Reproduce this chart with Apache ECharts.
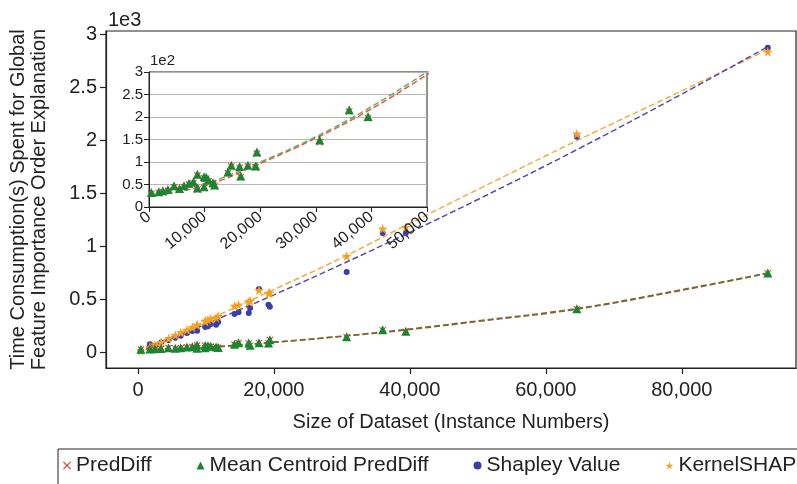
<!DOCTYPE html>
<html>
<head>
<meta charset="utf-8">
<script src="https://cdn.jsdelivr.net/npm/echarts@6/dist/echarts.min.js"></script>
<style>
html,body{margin:0;padding:0;background:#fff;}
#chart{width:797px;height:484px;}
</style>
</head>
<body>
<div id="chart"></div>
<script>
// ---- data ----
const sizes = [430, 1750, 2500, 3400, 4500, 5500, 6300, 7200, 8000, 8700, 8700, 9900, 9900, 10300, 10700, 11500, 11800, 14200, 14800, 16300, 16500, 17800, 19200, 19400, 30700, 36000, 39400, 64560, 92650];
const predDiffTimes = [29, 31, 33, 36, 44, 38, 44, 50, 53, 70, 39, 64, 42, 63, 57, 51, 46, 75, 90, 87, 66, 90, 88, 119, 144, 212, 197, 410, 748];
const centroidTimes = [32, 34, 36, 39, 47, 41, 47, 53, 56, 73, 42, 67, 45, 66, 60, 54, 49, 78, 93, 90, 69, 93, 91, 122, 149, 216, 201, 414, 752];
const shapleyTimes = [15, 80, 65, 95, 120, 140, 160, 185, 205, 207, 230, 242, 255, 250, 270, 263, 290, 364, 380, 373, 420, 600, 452, 433, 762, 1130, 1130, 2038, 2877];
const kernelTimes = [18, 55, 75, 100, 135, 165, 190, 215, 240, 260, 265, 295, 300, 310, 320, 330, 345, 440, 452, 480, 490, 590, 561, 565, 912, 1170, 1185, 2066, 2840];

// fitted trend lines
const fitSizes = [0, 10000, 20000, 30000, 40000, 50000, 64560, 80000, 92650];
const predDiffFit = [24, 47, 97, 153, 218, 294, 410, 588, 748];
const centroidFit = [28, 52, 100, 156, 223, 300, 416, 594, 752];
const shapleyFit = [0, 270, 545, 835, 1135, 1445, 1915, 2440, 2887];
const kernelFit = [10, 300, 595, 895, 1220, 1540, 2000, 2470, 2858];

const mainXTicks = [0, 20000, 40000, 60000, 80000];
const mainYTicks = [0, 500, 1000, 1500, 2000, 2500, 3000];

const seriesNames = ['PredDiff', 'Mean Centroid PredDiff', 'Shapley Value', 'KernelSHAP'];

// ---- styling ----
const FONT = '"Liberation Sans", Arial, Helvetica, sans-serif';
const crossPath = 'path://M1,0L5,4L9,0L10,1L6,5L10,9L9,10L5,6L1,10L0,9L4,5L0,1Z';
const starPath = 'path://M50,0L61,35L98,35L68,57L79,91L50,70L21,91L32,57L2,35L39,35Z';
const colRed = '#e23a2e', colGreen = '#1d8431', colBlue = '#3b3ea8', colOrange = '#f5a021';

function pairs(xs, ys) { return xs.map((x, i) => [x, ys[i]]); }
function commas(v) { return String(v).replace(/\B(?=(\d{3})+(?!\d))/g, ','); }

const axisLineStyle = { color: '#222', width: 1.2 };

function scatter(name, ys, symbol, size, color, xi, z) {
  return {
    name: name, type: 'scatter', xAxisIndex: xi, yAxisIndex: xi,
    data: pairs(sizes, ys), symbol: symbol, symbolSize: size,
    itemStyle: { color: color, opacity: 1 }, z: z, clip: true
  };
}
function fitLine(name, ys, color, xi, z) {
  return {
    name: name, type: 'line', xAxisIndex: xi, yAxisIndex: xi,
    data: pairs(fitSizes, ys), showSymbol: false, symbol: 'none', smooth: 0.4,
    lineStyle: { color: color, width: 1.5, type: [6, 3] }, z: z, clip: true,
    silent: true
  };
}

const option = {
  backgroundColor: '#fff',
  animation: false,
  textStyle: { fontFamily: FONT },
  grid: [
    { left: 106, top: 31, right: 1, bottom: 116, show: true, borderColor: '#222', borderWidth: 1.2, backgroundColor: 'transparent' },
    { left: 149, top: 72, right: 370, bottom: 277, show: true, borderColor: '#222', borderWidth: 1, backgroundColor: '#fff', z: 10 }
  ],
  xAxis: [
    {
      gridIndex: 0, type: 'value', min: -4700, max: 96800,
      name: 'Size of Dataset (Instance Numbers)', nameLocation: 'middle', nameGap: 44,
      nameTextStyle: { fontSize: 20, color: '#222', fontFamily: FONT },
      axisLine: { show: true, onZero: false, lineStyle: axisLineStyle },
      axisTick: { show: true, customValues: mainXTicks, length: 6, lineStyle: axisLineStyle },
      axisLabel: { customValues: mainXTicks, fontSize: 20, color: '#222', margin: 12, formatter: commas },
      splitLine: { show: false }
    },
    {
      gridIndex: 1, type: 'value', min: 0, max: 50000, interval: 10000, z: 12,
      axisLine: { show: true, onZero: false, lineStyle: { color: '#222', width: 1 } },
      axisTick: { show: true, length: 5, lineStyle: { color: '#222' } },
      axisLabel: { fontSize: 16, color: '#222', margin: 8, rotate: 40, formatter: commas },
      splitLine: { show: false }
    }
  ],
  yAxis: [
    {
      gridIndex: 0, type: 'value', min: -145, max: 3035,
      name: 'Time Consumption(s) Spent for Global\nFeature Importance Order Explanation',
      nameLocation: 'middle', nameGap: 56,
      nameTextStyle: { fontSize: 20, color: '#222', lineHeight: 21, fontFamily: FONT },
      axisLine: { show: true, onZero: false, lineStyle: axisLineStyle },
      axisTick: { show: true, customValues: mainYTicks, length: 6, lineStyle: axisLineStyle },
      axisLabel: { customValues: mainYTicks, fontSize: 20, color: '#222', margin: 9, formatter: v => String(v / 1000) },
      splitLine: { show: false }
    },
    {
      gridIndex: 1, type: 'value', min: 0, max: 300, interval: 50, z: 12,
      axisLine: { show: true, onZero: false, lineStyle: { color: '#222', width: 1 } },
      axisTick: { show: true, length: 5, lineStyle: { color: '#222' } },
      axisLabel: { fontSize: 15, color: '#222', margin: 6, formatter: v => String(v / 100) },
      splitLine: { show: true, lineStyle: { color: '#bdb4ad', width: 1.2 } }
    }
  ],
  legend: {
    left: 58, top: 449, width: 1000,
    data: [
      { name: seriesNames[0], icon: crossPath },
      { name: seriesNames[1], icon: 'triangle' },
      { name: seriesNames[2], icon: 'circle' },
      { name: seriesNames[3], icon: starPath }
    ],
    itemWidth: 8, itemHeight: 8, itemGap: 45,
    padding: [6, 40, 20, 5],
    borderColor: '#222', borderWidth: 1,
    textStyle: { fontSize: 21, color: '#222', fontFamily: FONT }
  },
  graphic: [
    { type: 'text', left: 108, top: 10, style: { text: '1e3', fontSize: 20, fill: '#222', fontFamily: FONT }, z: 20 },
    { type: 'text', left: 150, top: 53, style: { text: '1e2', fontSize: 15, fill: '#222', fontFamily: FONT }, z: 20 }
  ],
  series: [
    // main chart: fit lines
    fitLine('kfit', kernelFit, '#f2ae45', 0, 2),
    fitLine('sfit', shapleyFit, '#5a4ca6', 0, 2),
    fitLine('pfit', predDiffFit, '#9a5c34', 0, 2),
    fitLine('cfit', centroidFit, '#6f6d36', 0, 2),
    // main chart: points
    scatter(seriesNames[2], shapleyTimes, 'circle', 6, colBlue, 0, 3),
    scatter(seriesNames[3], kernelTimes, starPath, 10, colOrange, 0, 3),
    scatter(seriesNames[0], predDiffTimes, crossPath, 7, colRed, 0, 3),
    scatter(seriesNames[1], centroidTimes, 'triangle', 9, colGreen, 0, 3),
    // inset
    fitLine('pfit2', predDiffFit, '#e8573f', 1, 13),
    fitLine('cfit2', centroidFit, '#62b06c', 1, 13),
    scatter(seriesNames[0], predDiffTimes, crossPath, 7, colRed, 1, 14),
    scatter(seriesNames[1], centroidTimes, 'triangle', 9, colGreen, 1, 14)
  ]
};

const chart = echarts.init(document.getElementById('chart'), null, { renderer: 'canvas' });
chart.setOption(option);
</script>
</body>
</html>
